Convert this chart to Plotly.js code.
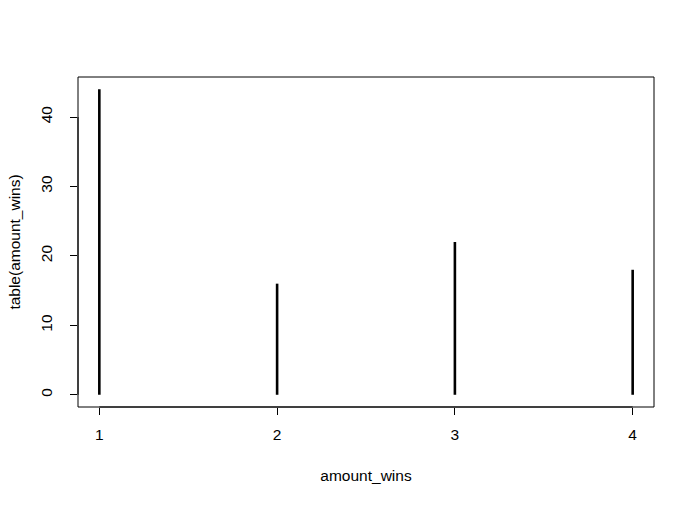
<!DOCTYPE html>
<html>
<head>
<meta charset="utf-8">
<script src="https://cdn.plot.ly/plotly-3.0.1.min.js"></script>
<style>
  html, body { margin: 0; padding: 0; background: #fff; }
  #plot { width: 694px; height: 505px; }
</style>
</head>
<body>
<div id="plot"></div>
<script>
// Frequency table of amount_wins
const categories = [1, 2, 3, 4];
const counts = [44, 16, 22, 18];
const xTicks = [1, 2, 3, 4];
const yTicks = [0, 10, 20, 30, 40];

// Vertical "h"-type lines: one segment from 0 to the count per category
const segX = [];
const segY = [];
categories.forEach((c, i) => {
  segX.push(c, c, null);
  segY.push(0, counts[i], null);
});

// R-style 4% axis padding
const xMin = Math.min(...categories), xMax = Math.max(...categories);
const yMin = 0, yMax = Math.max(...counts);
const xPad = (xMax - xMin) * 0.04;
const yPad = (yMax - yMin) * 0.04;

const font = { family: 'Liberation Sans, Arial, sans-serif', size: 15.5, color: '#000' };

const trace = {
  x: segX,
  y: segY,
  type: 'scatter',
  mode: 'lines',
  line: { color: '#000', width: 2.6 },
  hoverinfo: 'skip',
  showlegend: false
};

const layout = {
  width: 694,
  height: 505,
  margin: { l: 78, r: 40, t: 77, b: 98 },
  paper_bgcolor: '#fff',
  plot_bgcolor: '#fff',
  font: font,
  xaxis: {
    range: [xMin - xPad, xMax + xPad],
    tickvals: xTicks,
    ticktext: xTicks.map(String),
    ticks: 'outside',
    ticklen: 7,
    tickwidth: 1,
    tickcolor: '#000',
    ticklabelstandoff: 6,
    showgrid: false,
    zeroline: false,
    showline: false,
    tickfont: font,
    title: { text: 'amount_wins', font: font, standoff: 28 }
  },
  yaxis: {
    range: [yMin - yPad, yMax + yPad],
    tickvals: yTicks,
    ticktext: yTicks.map(String),
    tickangle: -90,
    ticks: 'outside',
    ticklen: 7,
    tickwidth: 1,
    tickcolor: '#000',
    ticklabelstandoff: 12,
    showgrid: false,
    zeroline: false,
    showline: false,
    tickfont: font,
    title: { text: 'table(amount_wins)', font: font, standoff: 13 }
  },
  shapes: [
    // plot frame
    { type: 'rect', xref: 'paper', yref: 'paper', x0: 0, x1: 1, y0: 0, y1: 1,
      line: { color: '#000', width: 1 }, fillcolor: 'rgba(0,0,0,0)' },
    // axis lines spanning first to last tick
    { type: 'line', xref: 'x', yref: 'paper', x0: xTicks[0], x1: xTicks[xTicks.length - 1], y0: 0, y1: 0,
      line: { color: '#000', width: 1 } },
    { type: 'line', xref: 'paper', yref: 'y', x0: 0, x1: 0, y0: yTicks[0], y1: yTicks[yTicks.length - 1],
      line: { color: '#000', width: 1 } }
  ]
};

Plotly.newPlot('plot', [trace], layout, { displayModeBar: false, staticPlot: true });
</script>
</body>
</html>
